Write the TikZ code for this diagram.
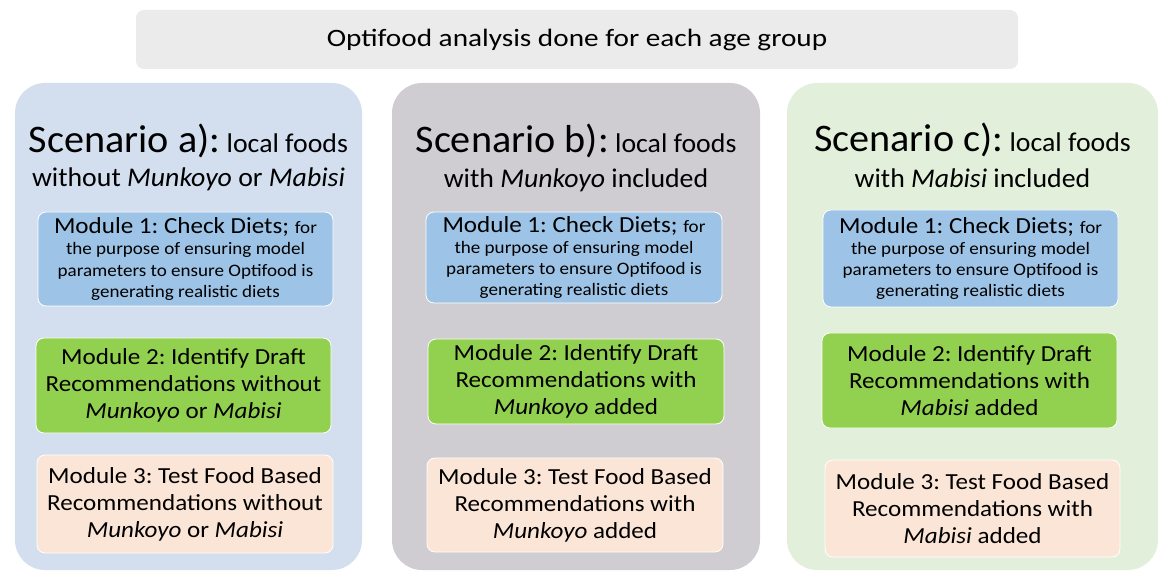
\documentclass[tikz,border=0pt]{standalone}
\usepackage{fontspec}
\setmainfont{Carlito}[FakeStretch=1.09]
\newfontfamily\titlefont{Carlito}[FakeStretch=1.03]
\newfontfamily\bannerfont{Carlito}[FakeStretch=1.17]
\frenchspacing
\definecolor{bannerc}{HTML}{EBEBEB}
\definecolor{panela}{HTML}{D3DFEF}
\definecolor{panelb}{HTML}{CFCDD2}
\definecolor{panelc}{HTML}{E2EFDA}
\definecolor{modone}{HTML}{9DC3E6}
\definecolor{modtwo}{HTML}{92D050}
\definecolor{modthree}{HTML}{FBE5D6}
\tikzset{
  panel/.style={rounded corners=30pt, draw=none},
  modbox/.style={rounded corners=8pt, draw=white, line width=0.8pt, inner sep=0pt, align=center,
     font=\fontsize{23}{27}\selectfont},
  modsmall/.style={modbox, font=\fontsize{17.5}{21.3}\selectfont},
  titlebig/.style={anchor=base, inner sep=0pt, font=\titlefont\fontsize{27}{32}\selectfont},
}
\newcommand{\bigpart}[1]{{\fontsize{39}{44}\selectfont #1}}
\newcommand{\medpart}[1]{{\fontsize{27}{32}\selectfont #1}}
\newcommand{\checktext}{{\fontsize{23}{27}\selectfont Module 1: Check Diets; }for\\the purpose of ensuring model\\parameters to ensure Optifood is\\generating realistic diets}
\begin{document}
\begin{tikzpicture}[x=1pt,y=-1pt]
\useasboundingbox (0,0) rectangle (1163,572);
% banner
\node[rounded corners=8pt, fill=bannerc, minimum width=882pt, minimum height=59pt, inner sep=0pt,
      font=\bannerfont\fontsize{25}{30}\selectfont] (banner) at (577,39.5) {Optifood analysis done for each age group};
% panels
\path[panel, fill=panela] (15,83) rectangle (362,570);
\path[panel, fill=panelb] (392,83) rectangle (760,570);
\path[panel, fill=panelc] (787,83) rectangle (1158,570);
% titles
\node[titlebig] (ta1) at (188.5,153) {\bigpart{Scenario a):} \medpart{local foods}};
\node[titlebig] (ta2) at (188.5,187) {\medpart{without \textit{Munkoyo} or \textit{Mabisi}}};
\node[titlebig] (tb1) at (576,153) {\bigpart{Scenario b):} \medpart{local foods}};
\node[titlebig] (tb2) at (576,188) {\medpart{with \textit{Munkoyo} included}};
\node[titlebig] (tc1) at (972.5,152) {\bigpart{Scenario c):} \medpart{local foods}};
\node[titlebig] (tc2) at (972.5,188) {\medpart{with \textit{Mabisi} included}};
% modules panel a
\node[modsmall, fill=modone, minimum width=295pt, minimum height=94pt] (a1) at (185.5,259) {\checktext};
\node[modbox, fill=modtwo, minimum width=295pt, minimum height=95pt] (a2) at (183.5,385.5) {Module 2: Identify Draft\\Recommendations without\\\textit{Munkoyo} or \textit{Mabisi}};
\node[modbox, fill=modthree, minimum width=296pt, minimum height=98pt] (a3) at (185,504) {Module 3: Test Food Based\\Recommendations without\\\textit{Munkoyo} or \textit{Mabisi}};
% modules panel b
\node[modsmall, fill=modone, minimum width=296pt, minimum height=91pt] (b1) at (574,257.5) {\checktext};
\node[modbox, fill=modtwo, minimum width=296pt, minimum height=85pt] (b2) at (576,381.5) {Module 2: Identify Draft\\Recommendations with\\\textit{Munkoyo} added};
\node[modbox, fill=modthree, minimum width=296pt, minimum height=94pt] (b3) at (575,505) {Module 3: Test Food Based\\Recommendations with\\\textit{Munkoyo} added};
% modules panel c
\node[modsmall, fill=modone, minimum width=295pt, minimum height=97pt] (c1) at (970.5,258.5) {\checktext};
\node[modbox, fill=modtwo, minimum width=295pt, minimum height=95pt] (c2) at (969.5,380.5) {Module 2: Identify Draft\\Recommendations with\\\textit{Mabisi} added};
\node[modbox, fill=modthree, minimum width=295pt, minimum height=97pt] (c3) at (972.5,508.5) {Module 3: Test Food Based\\Recommendations with\\\textit{Mabisi} added};
\end{tikzpicture}
\end{document}
